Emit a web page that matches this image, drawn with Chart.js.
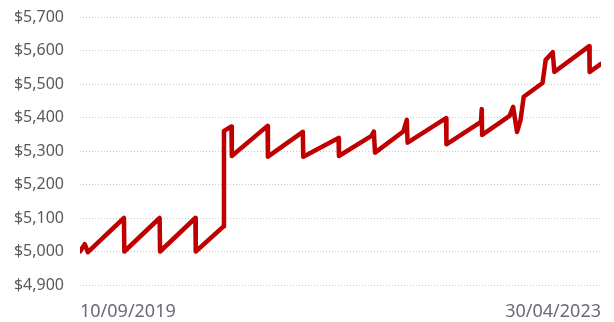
<!DOCTYPE html>
<html>
<head>
<meta charset="utf-8">
<style>
    body { margin: 0; background: #fff; }
    .chart { width: 614px; height: 322px; }
</style>
</head>
<body>
<div class="chart">
    <canvas id="balanceChart"></canvas>
</div>
<script src="https://cdn.jsdelivr.net/npm/chart.js"></script>
<script>
// balance history (dd/mm/yyyy)
const dates = [
    '10/09/2019', '22/09/2019', '30/09/2019',
    '31/12/2019', '01/01/2020',
    '31/03/2020', '01/04/2020',
    '30/06/2020', '01/07/2020',
    '10/09/2020', '11/09/2020', '30/09/2020', '01/10/2020',
    '31/12/2020', '01/01/2021',
    '31/03/2021', '01/04/2021',
    '30/06/2021', '01/07/2021',
    '22/09/2021', '28/09/2021', '01/10/2021',
    '12/12/2021', '21/12/2021', '23/12/2021',
    '31/03/2022', '01/04/2022',
    '28/06/2022', '30/06/2022', '01/07/2022',
    '09/09/2022', '18/09/2022', '28/09/2022',
    '07/10/2022', '15/10/2022',
    '02/12/2022', '10/12/2022', '28/12/2022', '01/01/2023',
    '31/03/2023', '01/04/2023', '30/04/2023'
];
const balance = [
    5000, 5022, 4998,
    5100, 5000,
    5100, 5000,
    5100, 5000,
    5075, 5360, 5373, 5285,
    5375, 5283,
    5357, 5283,
    5339, 5285,
    5345, 5358, 5295,
    5358, 5393, 5325,
    5398, 5320,
    5387, 5425, 5348,
    5405, 5432, 5357,
    5393, 5462,
    5503, 5572, 5595, 5536,
    5613, 5536, 5560
];
const yTicks = [4900, 5000, 5100, 5200, 5300, 5400, 5500, 5600, 5700];

function parseDate(s) {
    const [d, m, y] = s.split('/').map(Number);
    return Date.UTC(y, m - 1, d);
}
const DAY = 86400000;
const start = parseDate(dates[0]);
const dayIndex = dates.map(s => Math.round((parseDate(s) - start) / DAY));
const lastDay = dayIndex[dayIndex.length - 1];

function fmtDay(n) {
    const d = new Date(start + n * DAY);
    const dd = String(d.getUTCDate()).padStart(2, '0');
    const mm = String(d.getUTCMonth() + 1).padStart(2, '0');
    return dd + '/' + mm + '/' + d.getUTCFullYear();
}

const points = dayIndex.map((x, i) => ({ x: x, y: balance[i] }));

new Chart(document.getElementById('balanceChart'), {
    type: 'line',
    data: {
        datasets: [{
            data: points,
            borderColor: '#C00000',
            borderWidth: 4.5,
            borderJoinStyle: 'round',
            borderCapStyle: 'round',
            pointRadius: 0,
            tension: 0,
            fill: false
        }]
    },
    options: {
        responsive: true,
        maintainAspectRatio: false,
        animation: false,
        layout: { padding: { top: 17, right: 13, left: 0, bottom: 0 } },
        plugins: { legend: { display: false }, tooltip: { enabled: false } },
        scales: {
            x: {
                type: 'linear',
                min: 0,
                max: lastDay,
                afterBuildTicks: axis => {
                    axis.ticks = [{ value: 0 }, { value: lastDay }];
                },
                afterFit: axis => {
                    axis.height = 37;
                    axis.paddingLeft = 0;
                    axis.paddingRight = 0;
                },
                grid: { display: false, drawTicks: false },
                border: { display: false },
                ticks: {
                    align: 'inner',
                    maxRotation: 0,
                    padding: 16,
                    color: '#6a6a78',
                    font: { family: 'Noto Sans', size: 18 },
                    callback: v => fmtDay(v)
                }
            },
            y: {
                min: yTicks[0],
                max: yTicks[yTicks.length - 1],
                afterBuildTicks: axis => {
                    axis.ticks = yTicks.map(v => ({ value: v }));
                },
                afterFit: axis => {
                    axis.width = 80;
                    axis.paddingTop = 0;
                    axis.paddingBottom = 0;
                },
                grid: {
                    color: '#c8c8c8',
                    lineWidth: 1,
                    drawTicks: false
                },
                border: { display: false, dash: [1, 2] },
                ticks: {
                    padding: 16,
                    color: '#595959',
                    font: { family: 'Noto Sans', size: 16 },
                    callback: v => '$' + v.toLocaleString('en-US')
                }
            }
        }
    }
});
</script>
</body>
</html>
